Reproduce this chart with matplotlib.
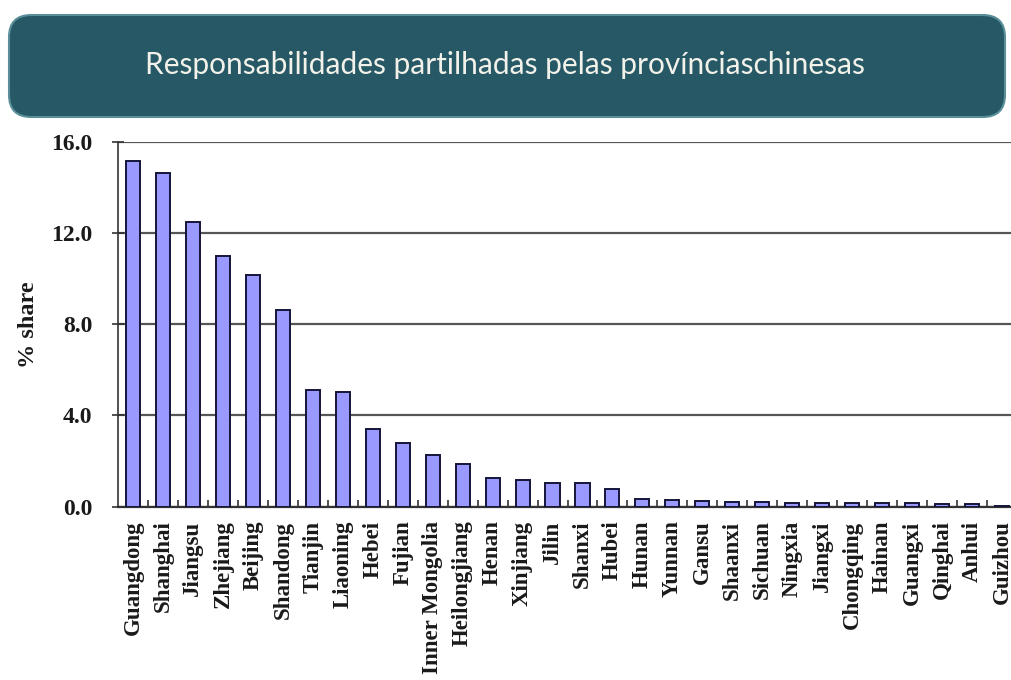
import numpy as np
import matplotlib
matplotlib.use('Agg')
import matplotlib.pyplot as plt
from matplotlib.patches import FancyBboxPatch

provinces = ['Guangdong', 'Shanghai', 'Jiangsu', 'Zhejiang', 'Beijing', 'Shandong',
             'Tianjin', 'Liaoning', 'Hebei', 'Fujian', 'Inner Mongolia', 'Heilongjiang',
             'Henan', 'Xinjiang', 'Jilin', 'Shanxi', 'Hubei', 'Hunan', 'Yunnan', 'Gansu',
             'Shaanxi', 'Sichuan', 'Ningxia', 'Jiangxi', 'Chongqing', 'Hainan',
             'Guangxi', 'Qinghai', 'Anhui', 'Guizhou']
share = [15.17, 14.62, 12.5, 10.98, 10.15, 8.63,
         5.12, 5.04, 3.39, 2.79, 2.28, 1.87,
         1.25, 1.17, 1.05, 1.05, 0.78, 0.32, 0.28, 0.24,
         0.22, 0.22, 0.18, 0.16, 0.15, 0.15,
         0.15, 0.14, 0.10, 0.03]
yticks = [0.0, 4.0, 8.0, 12.0, 16.0]
title = 'Responsabilidades partilhadas pelas provínciaschinesas'

serif = 'Liberation Serif'

fig = plt.figure(figsize=(10.12, 6.8), dpi=100)

# banner across the top
box = FancyBboxPatch((9 / 1012, 1 - 117 / 680), 996 / 1012, 102 / 680,
                     boxstyle='round,pad=0,rounding_size=0.022',
                     transform=fig.transFigure, facecolor='#265866',
                     edgecolor='#5a8e98', linewidth=1.5, mutation_aspect=1012 / 680)
fig.patches.append(box)
fig.text(505 / 1012, 1 - 65 / 680, title, ha='center', va='center',
         color='#f2f2ea', fontsize=21.5, family='Lato')

ax = fig.add_axes([118 / 1012, 173.3 / 680, 899 / 1012, 365 / 680])
x = np.arange(len(provinces))
ax.bar(x, share, width=0.47, color='#9999ff', edgecolor='#15153a', linewidth=1.4, zorder=3)

ax.set_xlim(-0.5, len(provinces) - 0.5)
ax.set_ylim(0, 16)
ax.set_yticks(yticks)
ax.set_yticklabels([f'{v:.1f}' for v in yticks], family=serif, fontweight='bold',
                   fontsize=17, color='#1a1a1a')
ax.set_xticks(x)
ax.set_xticklabels(provinces, rotation=90, family=serif, fontweight='bold',
                   fontsize=16.5, color='#1a1a1a', va='top', ha='center')
ax.set_xticks(x[:-1] + 0.5, minor=True)
ax.tick_params(axis='x', which='major', length=0, pad=10)
ax.tick_params(axis='x', which='minor', direction='in', length=5, width=1.2, color='#333333')
ax.tick_params(axis='y', direction='inout', length=9, width=1.2, color='#333333', pad=14)

ax.yaxis.grid(True, color='#555555', linewidth=1.6, zorder=1)
for side in ['top', 'right']:
    ax.spines[side].set_visible(False)
ax.spines['left'].set_color('#333333')
ax.spines['bottom'].set_color('#333333')
ax.spines['left'].set_linewidth(1.2)
ax.spines['bottom'].set_linewidth(1.6)

ax.set_ylabel('% share', family=serif, fontweight='bold', fontsize=17.5,
              color='#1a1a1a', labelpad=9)

fig.savefig('out.png', dpi=100)
